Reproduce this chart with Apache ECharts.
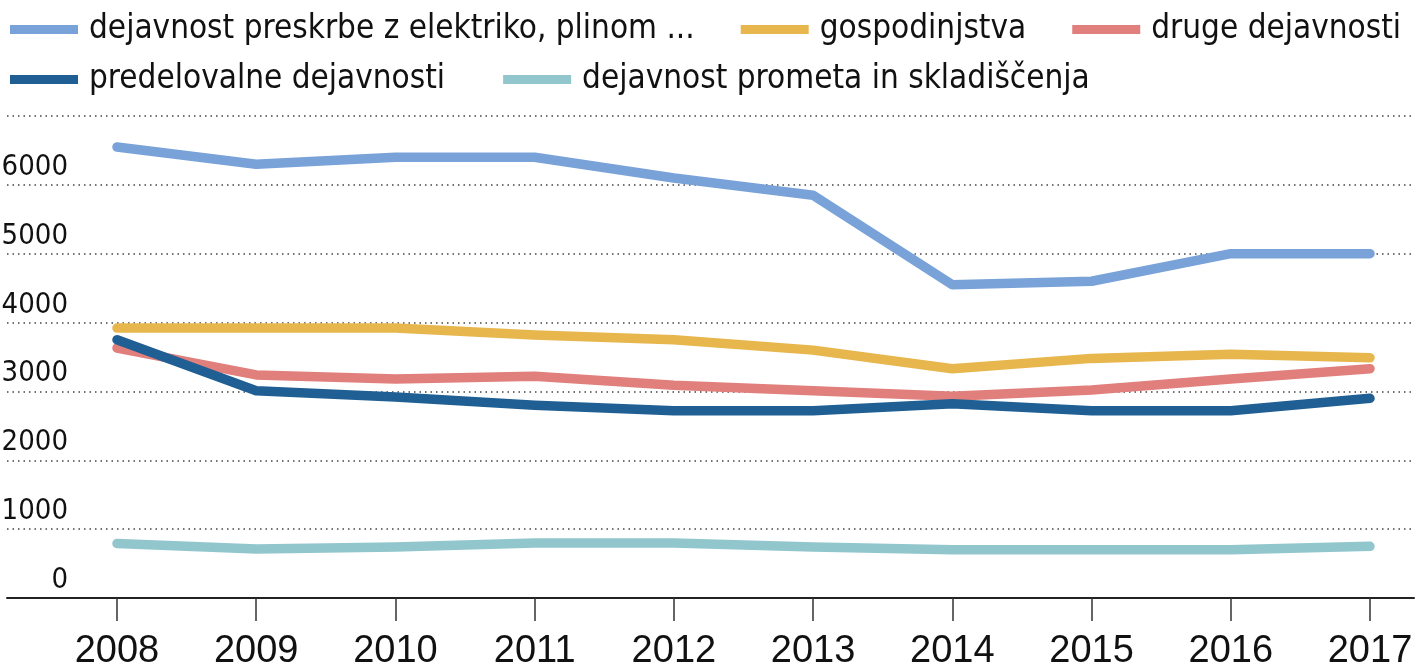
<!DOCTYPE html>
<html>
<head>
<meta charset="utf-8">
<script src="https://cdn.jsdelivr.net/npm/echarts@6/dist/echarts.min.js"></script>
<style>
html,body{margin:0;padding:0;background:#fff;}
#chart{width:1427px;height:668px;}
</style>
</head>
<body>
<div id="chart"></div>
<script>
const years = [2008, 2009, 2010, 2011, 2012, 2013, 2014, 2015, 2016, 2017];
const seriesNames = [
  'dejavnost preskrbe z elektriko, plinom ...',
  'gospodinjstva',
  'druge dejavnosti',
  'predelovalne dejavnosti',
  'dejavnost prometa in skladiščenja'
];
const preskrbe = [6550, 6300, 6400, 6400, 6100, 5850, 4550, 4600, 5000, 5000];
const gospodinjstva = [3920, 3920, 3920, 3820, 3750, 3600, 3330, 3480, 3540, 3490];
const druge = [3630, 3240, 3180, 3220, 3090, 3010, 2930, 3020, 3180, 3330];
const predelovalne = [3750, 3010, 2920, 2800, 2720, 2720, 2820, 2720, 2720, 2900];
const prometa = [790, 710, 740, 800, 800, 740, 700, 700, 700, 750];
const yTicks = [0, 1000, 2000, 3000, 4000, 5000, 6000, 7000];
const colors = ['#78a2d8', '#e7b64c', '#e07f7b', '#1f5f93', '#92c6cd'];

const allValues = [preskrbe, gospodinjstva, druge, predelovalne, prometa];
const chart = echarts.init(document.getElementById('chart'));

const narrow = "'Liberation Sans Narrow', 'DejaVu Sans Condensed', sans-serif";

const series = allValues.map((vals, i) => ({
  name: seriesNames[i],
  type: 'line',
  data: years.map((y, j) => [y, vals[j]]),
  symbol: 'none',
  lineStyle: { width: 9.5, color: colors[i], cap: 'round', join: 'round' },
  itemStyle: { color: colors[i] },
  z: 2 + i
}));

const legendCommon = {
  icon: 'rect',
  itemWidth: 68,
  itemHeight: 9,
  width: 1427,
  textStyle: { fontFamily: narrow, fontSize: 33, color: '#111', padding: [0, 0, 0, 6] },
  selectedMode: false
};

chart.setOption({
  animation: false,
  backgroundColor: '#fff',
  color: colors,
  legend: [
    Object.assign({}, legendCommon, { data: seriesNames.slice(0, 3), left: 5, top: 8, itemGap: 46 }),
    Object.assign({}, legendCommon, { data: seriesNames.slice(3), left: 5, top: 58, itemGap: 58 })
  ],
  grid: { left: 7, right: 13, top: 116, bottom: 70, outerBoundsMode: 'none', containLabel: false },
  xAxis: {
    type: 'value',
    min: 2007.21,
    max: 2017.316,
    axisLine: { show: true, lineStyle: { color: '#222', width: 2 } },
    axisTick: { show: true, customValues: years, length: 23, lineStyle: { color: '#333', width: 1.5 } },
    axisLabel: {
      customValues: years,
      fontFamily: "'Liberation Sans', sans-serif",
      fontSize: 38,
      color: '#111',
      margin: 35,
      formatter: v => String(v)
    },
    splitLine: { show: false }
  },
  yAxis: {
    type: 'value',
    min: yTicks[0],
    max: yTicks[yTicks.length - 1],
    interval: 1000,
    axisLine: { show: false },
    axisTick: { show: false },
    axisLabel: {
      inside: true,
      margin: 61,
      align: 'right',
      verticalAlign: 'bottom',
      padding: [0, 0, 3, 0],
      fontFamily: narrow,
      fontSize: 29,
      color: '#111',
      formatter: v => (v === 7000 ? '' : String(v))
    },
    splitLine: { show: true, lineStyle: { color: '#444', width: 1.5, type: [1.5, 4] } }
  },
  series: series
});
</script>
</body>
</html>
